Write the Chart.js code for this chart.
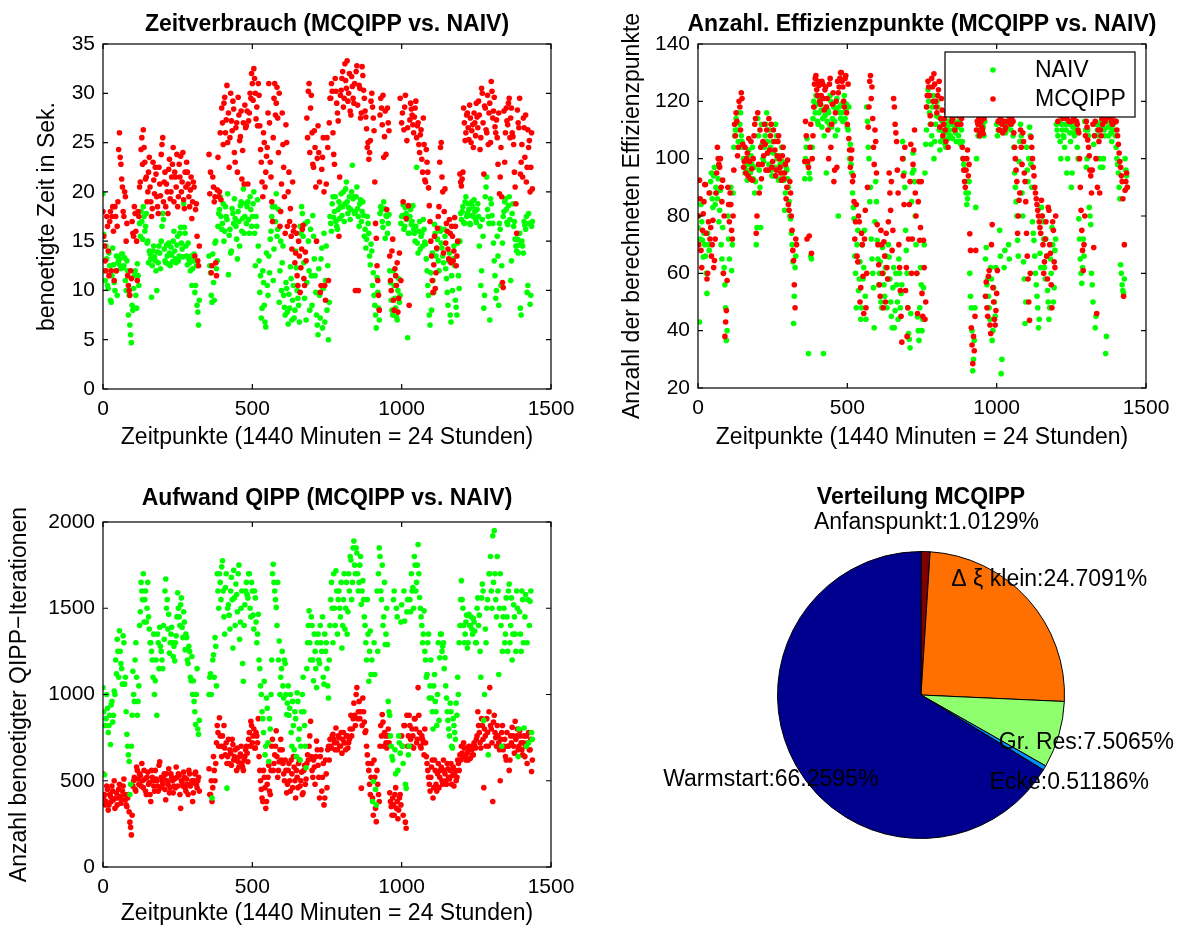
<!DOCTYPE html>
<html>
<head>
<meta charset="utf-8">
<script src="https://cdn.jsdelivr.net/npm/chart.js@4.4.1/dist/chart.umd.min.js"></script>
<style>
html,body{margin:0;padding:0;background:#fff;}
#wrap{position:relative;width:1187px;height:930px;overflow:hidden;background:#fff;}
canvas{position:absolute;}
</style>
</head>
<body>
<div id="wrap">
<canvas id="c1" width="593" height="465" style="left:0;top:0"></canvas>
<canvas id="c2" width="594" height="465" style="left:593px;top:0"></canvas>
<canvas id="c3" width="593" height="465" style="left:0;top:465px"></canvas>
<canvas id="c4" width="594" height="465" style="left:593px;top:465px"></canvas>
</div>
<script>
// ---------------- DATA ----------------
// readings every 5 minutes (A) and at the half-step in between (B)
const STEP = 5;
const minutesA = Array.from({length: 288}, (_, i) => i * STEP);
const minutesB = Array.from({length: 288}, (_, i) => i * STEP + STEP / 2);
const xTicks = [0, 500, 1000, 1500];
const seriesNames = ['NAIV', 'MCQIPP'];

// Zeitverbrauch (seconds)
const zeitMcqippA = [
18,14.5,12,16.5,11.5,18,17.5,16,18.5,12,19,26,22.8,20.5,17.5,19.5,16.8,10.5,9.5,11.2,15.8,18.5,16,11,
17.5,21,25.5,26.3,23,21.5,20,23.5,19,18.3,21.2,22.5,19.5,17.8,20.8,23.8,25.5,21,18.5,20,22.3,19.3,21.5,24.5,
22,20.5,18.5,22.8,23.6,21,19.2,22,23,20.8,18.5,21.5,19,20.5,18.2,15.5,12.5,null,null,null,null,null,null,23.8,
22,12.5,20.5,19.5,11.5,23.5,20,19.2,27,29,26,30.8,28,25.5,27.2,29.2,24,26.5,22,27.8,25.6,21.3,27,28.8,
26.7,20.8,28,29.5,31,32.5,30,28.6,31,26.7,23,19.5,25,22,24.5,31,23,19,25.5,31,29,27.5,30,18,
28,22.5,15.8,25,20,17,15.5,21,16.5,13.8,11.5,15,9.8,14.2,16.6,10.5,13,25.5,31,28.5,26,22.5,24.5,15,
26.7,21,10.5,23.5,20,9,25.5,11,29.5,31,26,22.8,30.2,28,15.5,29.8,31.5,28.6,33,30.5,29.2,32,27.8,30.7,
29,10,32.8,10,30.5,28,31.8,29.5,27.6,24.5,23.3,25.2,30,27.5,21,15.3,11,8,29.5,26.8,23.5,28.2,18.2,27,
13.5,10,15.2,8,11.5,12.8,9.2,29.5,27,19,28.6,17.3,26.5,8.5,29,27.8,26,28.5,25.5,27,24,26.3,22,24.8,
21,23,20.4,17,13.5,9.8,15.5,11.8,16.3,18.5,24.5,21.5,13.8,20.3,16.8,14.2,17.2,12.8,15.5,14,16.5,13.5,null,21.8,
20.6,22,27,26,28,25.3,27.5,26.2,24.5,27,29,26.5,27.8,25.5,30,21.8,28.5,26,24.8,29,31.2,27.5,29.6,26,
25.5,28,21.5,19.5,10.3,23,28.5,26.8,29.5,27.5,26,24.8,20.5,15.8,27,29.5,23,21.5,26.5,27.8,22.5,24.5,20,26
];
const zeitMcqippB = [
15.5,13,17.5,14,17,12,18.5,11,17.5,16.5,24.3,23.5,21.3,18,20,15,11.5,10,12,17,15.5,17.8,15,18,
20.5,24.3,22.8,24.5,21.3,19,22,20.5,17.5,23,19.8,21.8,18.5,22.5,19.6,24.8,19,22,20.8,17.8,23.3,20,22.8,19,
21.5,23.8,19.5,21.5,20,24,18.3,20.5,22,19.5,20.2,17.3,21,13.5,18.8,13,14.5,null,null,null,null,null,null,19.8,
11.8,21.5,19,12.8,20.2,19.5,26,28.5,24.8,29.6,27.3,25,22.5,30,26.2,28.4,23,27,29.6,25.2,28.2,24.2,20.8,26.5,
28.2,27.2,30,32,29.3,31.5,27.4,26.7,29.8,24.3,21,26,20.5,23.6,28,27,21.5,17,29.5,27.8,30.6,24,16.5,20.8,
24.8,19.5,26.8,16.5,22,18.3,14.2,16,12.8,15.8,10.5,13.5,12.3,16.2,11.2,13.9,27.5,30.2,24,29.8,22.8,26.2,20.5,23.4,
24,9.8,22.3,25.5,10.5,20.8,24.5,27,29.5,30.2,23.8,31.5,29,27.2,21.5,30.3,32.2,29.5,31.3,33.3,30,28.2,31.7,29.5,
31,32.2,28.8,30.8,27.5,32.7,30.3,28.2,26.4,25,24,29.2,28.6,26.2,16.8,12.5,9.5,27.8,28.5,29.8,25.6,23.8,28.5,26.2,
11,14,9,12.2,10.5,7.8,13.8,11,28,26.3,29.8,25.2,18.6,27.3,28.4,26.8,27.6,29.2,26.7,24.8,25.8,23.3,27.5,21.2,
24.3,22,18.6,15,11,12.6,10.2,14.3,17.5,23,25,20,18,14.8,16,13.2,15.8,16.5,13,17.4,12.5,15,null,21,
21.3,28.5,25.2,27.8,26.5,28.8,25,26.8,28,25.7,27.6,29.2,24.3,30.5,27,28.7,26.3,29.8,28,25,30.2,28.2,26.6,27.3,
22.8,19.8,24.5,10.8,28.2,26,27.2,29,25.5,28.5,25.6,22,18.8,28.3,26.5,21.8,24.8,27.5,23.5,21,26.3,25.2,22.5,20.3
];
const zeitNaivA = [
19.8,12,14.5,10.5,13.8,9,11.5,12.6,10,13.5,12.8,13.2,12.2,13.7,12.5,11,13,7.5,6.5,4.7,8,11.5,9.5,12.7,
10.5,15.5,17,18.5,16,17.8,15,14,13.2,12.5,14.5,13,10,12.8,13.8,15,17.8,14.2,12.8,13.5,14.8,12.5,13.6,15,
14,12.8,15.5,13.5,16.4,14.2,18.8,15.8,13.5,14.8,12.8,13.5,12.2,13.7,10.5,8.5,6.5,null,null,null,null,null,null,13.5,
11.8,8.8,10.8,14.8,12.2,16.5,18.2,17.5,16.8,15,18.5,17.2,11.6,16.2,14,17.8,19.3,16.5,13.2,17,18.6,16,20.3,17.5,
16.8,19,15.8,18.2,17.5,20,12.5,16.5,14.5,9.8,7.2,12,8.5,6.3,10.5,13.5,15.2,17.5,11,18.5,19.8,16.2,8.8,15,
12.8,9.5,7.5,10.2,6.6,8.2,11.2,9,7.2,14,10,8.5,16.5,18.5,15.5,9.2,7,17,12,16.2,8.5,15.5,11.5,7.5,
5.5,9.5,13.2,6.2,15.8,11,8,5,17.5,16,19.5,18,17,16.2,19,18.5,17.6,20,18.8,21,17.8,19.5,18.2,22.7,
19.5,18,20.5,17.5,18.8,17,19,15.5,14.3,17.5,15.8,12.6,14,11.8,8.5,6.2,9.8,7,18.5,17,19,15.3,17.5,16.8,
12,9,7.5,10.5,8.2,7,11.2,9.5,17.5,18.7,16.5,17.8,5.2,15.8,18.2,17,16.2,15,22.5,13.8,17,15.5,14.5,16.2,
14.7,12,9.5,6.5,8,11,16.7,13.5,15.2,12,16,14.3,12.8,15.5,11.2,8.5,13.8,6.8,10,14.5,9,7.5,11.5,15,
17.2,18.5,16.8,19.5,17.8,18.2,16.7,19,17.5,18,16.9,18.8,14.5,10.5,17.2,8.2,19.5,21.5,17.5,7,18.8,16.8,13,9.2,
15.5,8.5,16.2,12.5,17.5,19,18.2,16.7,19.5,11,17.8,16.5,15.2,14,13.8,15.8,7.5,14.5,17,16.2,9.8,17.8,8.6,16.5
];
const zeitNaivB = [
15.7,11,13.2,10.2,12.5,8.8,14.3,10.8,12,9.5,13,12.5,13.7,12.3,13.3,10,12,9.5,5.5,8.5,10.2,12,8.2,11.5,
16.8,18,15.2,17.5,16.5,14.8,12.8,13.7,9.3,14,13.4,12,13.9,14.5,12.2,16.5,17.2,13,14.6,12.7,13.8,14.4,12.9,16,
13.2,14.6,13,15.8,14.8,13.4,16.4,14.5,12.6,13.2,12,10.5,13,9.8,12.5,7.8,9,null,null,null,null,null,null,12.5,
9.5,13.7,9,15,13,17.8,19.5,16.2,18.8,16,17.5,19.8,15.6,13.8,18.3,16.8,17.3,15.2,18,14.5,19,17.3,15.8,18.8,
18.5,17.2,19.5,16.5,18.8,15.8,17.5,19.2,13,11.5,8.2,10.8,6.8,13.8,9.5,11.8,16,18.5,14.2,17,15.5,18.2,12,10,
14.5,8.3,10.8,7.8,9.6,12.4,7,10.5,8,12.3,9.2,6.8,15.8,17.8,12.8,16.8,10.8,15,8,11.5,17.6,13.2,9.8,6.5,
12.2,7.2,14.3,10.2,6.8,14.5,12.5,8.8,16.8,18.8,17.4,19.5,16.5,18.2,17.3,19.8,18.5,17,20.3,19,18.4,17.2,20,19.3,
17.8,19.5,18.3,16.5,19.2,18,17.6,16.2,15.2,16.8,13.5,14.7,10.5,9.5,7.5,11.3,8.2,17.8,18.2,16.4,18.3,17.6,15.8,17.7,
10.8,8,12,9.2,7.3,10,8.8,16.8,17.6,16.2,18.4,17.2,15.8,17.5,16.7,18.6,15.8,16.5,14.8,16,14.2,15.8,17.2,14.9,
13.2,10.5,7.5,11.8,13.8,9.8,15.8,14.2,13,16.3,14.8,13.5,16.2,12.2,9.8,13,7.5,11.5,13.2,12.5,8.3,14.8,10.2,17.8,
18,16.9,19,17.5,18.8,16.8,17.6,18.5,19.2,17.2,18.2,17.5,16.5,12,15.5,9.5,20.5,18.2,16.8,19.3,17.6,14.8,11.5,10,
13.5,16.8,10.5,14.8,18,19.3,16.9,18.6,17.2,13,18.8,17,14.5,15.2,14.6,8.2,15,13.8,16.6,17.5,10.5,16.8,9.5,17
];

// Anzahl Effizienzpunkte
const effMcqippA = [
80,92.5,68,75,85,91,58,78,72,66,78.5,64.5,88,104,98,100,85,60,38,47,90,78,84,72,
96,108,113,104,118,123,105,99,95,102,107,93,96.5,100,112,74,116,88,104,98,101,105,110,96,
103,112,99,106,94,101,108,97,92.5,104,95,86,99.5,82,88,75,64.5,48,70,null,null,null,null,null,
113,72,97,104,67,108,126,129,122,125.5,119,127,121,124,118,110,126,104,119,92,116,97,123,128,
130,125,118,129,112,107,97,103,94,72,84,64,78,55,70,46,82,60,111,127,121,114,98,106,
77,63,52,70,48,66,74,58,95,82,68,121,112,106,88,62,45,100,84,54,38,72,92,60,
98,110,80,46,92,76,53,71.5,44,118,127,122,112,125,129.6,120,116,124,111,121,108,114,106,119,
120,116,113,118,110,121,115,117,112,104,96,90,100,94,73.8,41,28.5,33,68,113,114.5,109,111,108.7,
118,57,45,61,39,77,50,42,53,113,110,116,109,113,111,117,115,120,114,113,104,96,74,85.5,
110,98,106,92,74,58,43.6,107.5,100,94,88,84,80,76,85.5,70,64,78,58,82,67,48,75,62,
118,113,121,115,124,117,119,114,122,116,113,120,115,118,112,109,90,75,61,80,113,106.5,101,94,
96,69,113,46,110,88,108,112,118,114,120,116,117,113,115,119,113,108,102,97,92,52,89,95
];
const effMcqippB = [
70,86,62,80.8,91,74,60,88,76,70,62,72,95,100,97,90,92.5,80,43,57.5,84,88,75,80,
112,116,101,120,110,121,97,104,100,94,99,106,92.5,108,114,80,98,110,93,106,112,96,102,114,
108,97,110,103,96,106,100,95,101,93,98,90,84,92,80,68,56,72,null,null,null,null,null,99,
108,99,73,112,100,118,128,124,127,120,122,126,117,125,121,100,128,112,123,96,120,127,125,130,
127,120,128,116,126,103,100,92,85,78,66,80,50,74,59,72,48,90,118,129,125,104,110,95,
70,56,75,60,71,50,62,78,88,92,75,118,109,96,70,54,36,94,104,62,48,84,105,72,
103,88,60,85,71.5,92,45,62,50,122,125,115,128,120,126,118,122,127,114,117,112,110,116,104,
118,121,114,120,117,112,122,116,114,100,92,96,103,98,68,35,38,45,110,112,108,113,110,114,
52,48,59,42,70,55,44,47,61,110,114,112,117,110,116,113,118,112,116,109,100,92,80,88,
104,109,95,85,66,50,60,104,97,90,86,82,78,74,80,60,72,66,83,70,56,78,64,80,
116,120,117,122,114,118,121,116,113,119,117,114,121,113,110,100,82,68,70,108,111,104,96,88,
112,108,100,90,106,110,114,117,113,121,115,118,114,112,117,113,110,105,99,94,86,70,92,90
];
const effNaivA = [
76,43,84,71.5,74,66,53,70,88,95,83,97,90,86,78,89,65,60,56,36.6,80,65,90,70,
104,110,116,106,112,108,104,97,100,92.5,103,95,98,93,88,70,114,96,76,105,99,108,116,102,
110,96,106,94,112,100,92.5,98,104,95,82,97,93,85,79,70,42.5,62,null,null,null,null,null,null,
100,107,32,93,65,114,118,122,113,116,119,111,32,115,95,117,112,120,114,118,108,121,80,116,
119,113,122,117,111,118,105,95,83,66,48,75,58,44,70,62,52,118,104,85,72,60,41,92,
71.5,56,64,48,60,52,66,58,65.7,50,41,62,47,56,44,60,53,106,95,75,60,39,34,85,
102,92,70,44.8,36.6,62,40,55,95,110,124,116,105,118,100,112,120,114.5,103,110,107,112,104,109,
113,108,114,110,111,106,112,113,105,106,98,92,84,88,60,48,26,36.6,83,110,112,108,114,111,
113,69,58,48,62,36.6,55,45,112,110,75,25,113,62,109,111,70,114,112,108,95,85,71.5,99,
112,88,64,42.5,104,92,111,98,78,71.5,60,52,41,67,83,78,62,72,54,44,65,76,50,68,
112,108,113,100,110,107.5,112,95,113,109,90,111,108,112,104,79,65,56.5,72,113,97,110,83,77,
56,105,41,112,108,100,113,97,110,32,113,108,111,106,112,113,104,98,90,63,56,53,100,94
];
const effNaivB = [
80,72,78,65.7,70,60,74,68,92,86,94,84,88,93,82,70,76,62,48,40,72,84,61,88,
108,114,110,104,116,106,100,95,96,98,93,101,104,97,92,76,108,90,112,100,104,112,106,98,
104,94,102,97,108,96,101,93,99,92.5,88,96,90,80,74,64,52,66,null,null,null,null,null,93,
104,98,95,66,104,120,116,119,112,121,117,114,108,118,113,116,122,111,119,113,117,110,118,114,
116,120,114,119,110,100,98,88,79,60,70,54,64,48,58,75,44,113,100,90,65,55,78,85,
65,60,50,69,56,62,48,70,58,45,55,41,60,50,65,48,56,100,90,68,48,37,46,95,
96,80,60,40,48,56,44,70,105,118,120,112,108,122,106,115,118,110,106,113,109,105,111,107,
110,112,107,113,109,111,108,106,110,100,96,88,86,92,52,40,30,48,100,108,114,110,112,108,
65,56,52,44,58,40,50,62,108,113,66,30,110,68,112,113,65,110,113,104,90,80,66,106,
108,80,58,50,96,100,108,90,74,66,56,48,44,62,80,72,58,66,50,48,60,70,55,72,
110,113,106,112,108,104,110,100,112,106,95,109,113,110,100,72,60,62,66,110,100,108,80,60,
50,108,45,110,112,97,111,100,108,38,111,113,109,113,110,108,100,95,86,60,54,58,96,90
];

// Aufwand QIPP (iterations)
const iterMcqippA = [
540,420,380,450,360,410,470,390,340,430,400,480,370,440,510,390,350,420,260,186,470,520,440,560,
480,530,600,460,510,420,550,490,380,520,470,560,500,440,610,520,480,540,390,500,570,460,520,430,
510,580,470,530,340,490,550,460,510,420,540,480,380,500,550,460,520,null,null,null,null,null,null,570,
420,380,640,500,720,780,865,700,760,820,650,600,740,680,590,710,640,620,690,580,655,600,560,640,
700,610,780,845,720,800,690,760,860,560,450,380,520,340,480,590,420,700,560,650,790,520,610,740,
680,540,620,430,560,500,620,460,580,400,520,600,470,550,430,590,510,650,700,845,560,620,480,730,
590,400,680,520,360,620,460,700,740,690,770,720,806,680,750,700,660,780,720,760,690,740,880,800,
950,820,1040,900,860,457,980,840,790,650,560,420,600,300,520,263,480,380,820,884,700,760,690,800,
430,350,400,300,460,380,330,420,760,300,820,225,700,880,740,800,690,860,720,1040,780,690,740,650,
720,600,520,440,580,400,620,480,540,460,560,500,620,540,480,570,510,600,530,470,560,520,600,650,
700,640,690,620,660,700,630,680,650,700,740,900,780,690,820,460,760,860,700,1040,800,380,880,750,
820,720,500,780,680,740,620,700,560,760,810,700,845,760,680,790,720,650,760,700,600,780,680,554
];
const iterMcqippB = [
400,360,470,330,420,380,440,500,400,360,450,410,390,470,420,360,400,320,230,300,500,450,580,510,
540,470,500,560,440,520,480,420,560,500,440,510,470,590,460,500,520,450,540,480,430,540,500,470,
460,520,540,420,500,470,520,440,480,560,470,500,430,540,480,500,440,null,null,null,null,null,null,420,
500,460,560,600,820,700,760,640,700,690,720,640,600,660,740,620,680,560,610,640,700,580,620,680,
660,740,700,820,760,690,780,720,640,500,400,560,460,380,520,440,560,740,600,700,640,560,680,620,
600,500,560,480,600,440,540,640,500,560,460,620,500,420,560,480,600,620,760,640,520,580,640,680,
520,640,440,600,400,540,680,620,700,760,740,680,720,760,700,780,740,720,680,760,720,800,760,860,
880,1000,860,960,900,820,900,780,700,600,480,520,400,620,340,560,420,700,760,840,780,720,760,720,
380,300,360,420,340,280,400,360,700,820,260,880,760,820,700,760,860,800,740,880,700,760,720,800,
640,560,480,520,620,460,560,440,600,520,580,480,560,500,600,520,560,480,580,540,500,620,560,620,
660,720,640,690,620,680,700,650,720,690,760,820,720,860,740,800,700,780,900,820,720,840,780,700,
760,680,740,820,700,640,780,700,620,720,760,660,740,800,700,760,680,720,640,760,720,680,740,620
];
const iterNaivA = [
1040,535,860,920,820,710,960,880,1000,1120,1250,1370,1180,1060,1300,1100,770,650,420,700,1135,960,1300,880,
1050,1480,1600,1700,1550,1420,1650,1380,1300,1200,1350,1080,880,1300,1390,1250,1150,1320,1670,1550,1465,1300,1390,1220,
1195,1340,1590,1450,1520,1390,1480,1260,1330,1180,1250,1080,1000,960,826,1150,770,null,null,null,null,null,null,1000,
1120,400,1230,1330,1050,1600,1700,1550,1775,1450,1620,457,1520,1380,1680,1270,1560,1640,1480,1750,1420,1600,1077,1520,
1650,1560,1700,1450,1600,1380,1560,1300,1465,1150,1000,860,1077,700,920,612,800,1200,1755,1600,1505,1650,1310,1100,
1250,980,1180,884,1050,920,780,960,680,860,1010,740,620,900,1100,820,575,1300,1485,1200,1400,1080,1250,1040,
1350,1180,1300,1450,1060,1250,1150,980,1400,1650,1300,1500,1717,1350,1600,1450,1270,1550,1380,1650,1480,1600,1780,1650,
1890,1700,1820,1600,1750,1523,1660,1450,1300,1550,1077,1368,1200,496,1116,360,1250,1850,1600,1750,1450,1290,1500,960,
880,700,620,1600,540,1450,760,660,1520,600,1426,457,1550,700,1480,1600,1500,1750,1650,1870,1562,1450,1300,1485,
1200,1116,1350,1050,980,800,1116,900,1000,850,1350,1250,1300,1213,980,850,760,900,690,820,740,880,1000,1400,
1660,1500,1300,1420,1270,1465,1400,1380,1440,1368,1300,1560,1460,1100,1640,850,1380,1500,650,1700,1600,1920,1950,1550,
1800,1116,1700,700,1450,1300,1560,1250,1640,1400,1200,1520,1350,1600,640,1480,1250,1550,806,1580,1300,720,1540,780
];
const iterNaivB = [
900,820,1000,780,880,940,840,1020,1200,1320,1100,1250,1150,1340,1060,900,700,612,480,880,1000,1200,1100,960,
1400,1650,1550,1420,1600,1500,1450,1300,1250,1100,1000,1200,1350,1150,1280,1200,1400,1600,1500,1380,1240,1350,1300,1280,
1300,1450,1500,1400,1560,1330,1420,1350,1200,1280,1100,1220,1080,900,1000,800,850,null,null,null,null,null,null,1100,
1000,1200,1100,1280,1700,1500,1650,1740,1600,1350,1700,1500,1460,1600,1550,1720,1400,1580,1700,1320,1500,1180,1400,1600,
1580,1700,1500,1650,1460,1600,1420,1350,1200,1050,900,780,650,980,720,860,1000,1700,1650,1550,1400,1200,1000,1150,
1050,1200,1000,950,880,1000,700,820,900,640,960,800,700,1000,900,700,1150,1400,1300,1450,1200,1350,1150,1300,
1200,1400,1250,1100,1350,1300,1050,1200,1550,1500,1700,1400,1600,1550,1500,1650,1400,1700,1500,1350,1700,1800,1550,1850,
1750,1850,1700,1650,1800,1600,1550,1400,1200,1350,1250,1116,380,1300,450,1600,1700,1800,1550,1400,1650,1350,1290,900,
760,640,1550,680,1500,560,720,1420,700,1600,480,1480,650,1550,1700,1620,1800,1600,1750,1700,1500,1400,1350,1250,
1100,1300,980,1200,900,1050,960,820,1300,1213,1350,1280,1150,1050,900,800,950,700,860,780,950,1100,1300,1550,
1550,1400,1350,1460,1300,1400,1450,1350,1420,1300,1500,1400,1250,1560,1600,1000,1300,1550,1700,1800,1500,1650,1700,1450,
1600,1500,1400,1250,1500,1350,1450,1600,1300,1560,1350,1450,1250,1500,800,1350,1600,1300,1450,700,1550,1400,1600,740
];

// Verteilung MCQIPP (percent), clockwise from 12 o'clock
const pieLabels = ['Anfanspunkt', 'Δ ξ klein', 'Gr. Res', 'Ecke', 'Warmstart'];
const pieValues = [1.0129, 24.7091, 7.5065, 0.51186, 66.2595];

// ---------------- STYLE ----------------
const FONT = "'Liberation Sans', Arial, Helvetica, sans-serif";
Chart.defaults.font.family = FONT;
Chart.defaults.color = '#000';
const RED = '#ff0000', GREEN = '#00ff00';
const pieColors = ['#800000', '#ff7000', '#8fff70', '#0090ff', '#00008f'];

function pts(a, b) {
  return minutesA.map((m, i) => ({x: m, y: a[i]}))
    .concat(minutesB.map((m, i) => ({x: m, y: b[i]})));
}

// axes box with inward ticks on all four sides (MATLAB style)
const boxTicks = {
  id: 'boxTicks',
  afterDatasetsDraw(chart) {
    const {ctx, chartArea: a, scales} = chart;
    const L = 5;
    ctx.save();
    ctx.strokeStyle = '#000';
    ctx.lineWidth = 1.2;
    ctx.strokeRect(a.left, a.top, a.right - a.left, a.bottom - a.top);
    ctx.beginPath();
    scales.x.ticks.forEach(t => {
      const p = scales.x.getPixelForValue(t.value);
      ctx.moveTo(p, a.bottom); ctx.lineTo(p, a.bottom - L);
      ctx.moveTo(p, a.top); ctx.lineTo(p, a.top + L);
    });
    scales.y.ticks.forEach(t => {
      const p = scales.y.getPixelForValue(t.value);
      ctx.moveTo(a.left, p); ctx.lineTo(a.left + L, p);
      ctx.moveTo(a.right, p); ctx.lineTo(a.right - L, p);
    });
    ctx.stroke();
    ctx.restore();
  }
};

// chart title centred over the axes
const ttl = {
  id: 'ttl',
  afterDraw(chart, args, o) {
    if (!o || !o.text) return;
    const {ctx, chartArea: a} = chart;
    ctx.save();
    ctx.font = 'bold 23px ' + FONT;
    ctx.fillStyle = '#000';
    ctx.textAlign = 'center';
    ctx.textBaseline = 'alphabetic';
    ctx.fillText(o.text, (a.left + a.right) / 2, o.y);
    ctx.restore();
  }
};

// legend box inside the axes (top right)
const mlegend = {
  id: 'mlegend',
  afterDraw(chart, args, o) {
    if (!o || !o.show) return;
    const {ctx, chartArea: a} = chart;
    const w = 190, h = 65;
    const x0 = a.right - 11 - w, y0 = a.top + 8;
    ctx.save();
    ctx.fillStyle = '#fff';
    ctx.fillRect(x0, y0, w, h);
    ctx.strokeStyle = '#000';
    ctx.lineWidth = 1.2;
    ctx.strokeRect(x0, y0, w, h);
    ctx.font = '23px ' + FONT;
    ctx.textBaseline = 'middle';
    ctx.textAlign = 'left';
    o.items.forEach((it, i) => {
      const yy = y0 + 18 + i * 29;
      ctx.fillStyle = it.color;
      ctx.beginPath(); ctx.arc(x0 + 48, yy, 2.8, 0, Math.PI * 2); ctx.fill();
      ctx.fillStyle = '#000';
      ctx.fillText(it.label, x0 + 90, yy + 1);
    });
    ctx.restore();
  }
};

// pie labels at 1.2 * radius along each slice bisector
const pieLbl = {
  id: 'pieLbl',
  afterDatasetsDraw(chart) {
    const {ctx} = chart;
    const meta = chart.getDatasetMeta(0);
    ctx.save();
    ctx.font = '23px ' + FONT;
    ctx.fillStyle = '#000';
    ctx.textAlign = 'center';
    ctx.textBaseline = 'middle';
    meta.data.forEach((arc, i) => {
      const p = arc.getProps(['x', 'y', 'startAngle', 'endAngle', 'outerRadius'], true);
      const mid = (p.startAngle + p.endAngle) / 2;
      const r = p.outerRadius * 1.2;
      ctx.fillText(pieLabels[i] + ':' + pieValues[i] + '%', p.x + r * Math.cos(mid), p.y + r * Math.sin(mid));
    });
    ctx.restore();
  }
};

function scatterConfig(o) {
  return {
    type: 'scatter',
    data: {
      datasets: o.datasets.map(d => ({
        label: d.label, data: pts(d.a, d.b),
        backgroundColor: d.color, borderColor: d.color, borderWidth: 0,
        pointRadius: 2.8, pointHoverRadius: 2.8
      }))
    },
    options: {
      responsive: false, animation: false, events: [],
      layout: {padding: {left: 0, top: o.top, right: o.right, bottom: 0}},
      plugins: {
        legend: {display: false}, tooltip: {enabled: false},
        ttl: {text: o.title, y: o.titleY},
        mlegend: o.legend || {show: false}
      },
      scales: {
        x: {
          type: 'linear', min: 0, max: 1500,
          afterBuildTicks: s => { s.ticks = xTicks.map(v => ({value: v})); },
          grid: {display: false, drawTicks: false}, border: {display: false},
          ticks: {font: {size: 21}, color: '#000', padding: 8, maxRotation: 0, callback: v => String(v)},
          title: {display: true, text: 'Zeitpunkte (1440 Minuten = 24 Stunden)', font: {size: 23}, color: '#000',
                  padding: {top: 0, bottom: o.xTitlePad}},
          afterFit: s => { s.height = o.xH; }
        },
        y: {
          type: 'linear', min: o.yTicks[0], max: o.yTicks[o.yTicks.length - 1],
          afterBuildTicks: s => { s.ticks = o.yTicks.map(v => ({value: v})); },
          grid: {display: false, drawTicks: false}, border: {display: false},
          ticks: {font: {size: 21}, color: '#000', padding: 8, callback: v => String(v)},
          title: {display: true, text: o.yTitle, font: {size: 23}, color: '#000',
                  padding: {top: o.yTitlePad, bottom: 0}},
          afterFit: s => { s.width = o.yW; }
        }
      }
    },
    plugins: [boxTicks, ttl, mlegend]
  };
}

new Chart(document.getElementById('c1'), scatterConfig({
  title: 'Zeitverbrauch (MCQIPP vs. NAIV)', titleY: 31,
  top: 44, right: 42, xH: 76, yW: 103, xTitlePad: 14, yTitlePad: 34,
  yTicks: [0, 5, 10, 15, 20, 25, 30, 35],
  yTitle: 'benoetigte Zeit in Sek.',
  datasets: [
    {label: seriesNames[1], a: zeitMcqippA, b: zeitMcqippB, color: RED},
    {label: seriesNames[0], a: zeitNaivA, b: zeitNaivB, color: GREEN}
  ]
}));

new Chart(document.getElementById('c2'), scatterConfig({
  title: 'Anzahl. Effizienzpunkte (MCQIPP vs. NAIV)', titleY: 31,
  top: 44, right: 41, xH: 77, yW: 105, xTitlePad: 14, yTitlePad: 26,
  yTicks: [20, 40, 60, 80, 100, 120, 140],
  yTitle: 'Anzahl der berechneten Effizienzpunkte',
  datasets: [
    {label: seriesNames[1], a: effMcqippA, b: effMcqippB, color: RED},
    {label: seriesNames[0], a: effNaivA, b: effNaivB, color: GREEN}
  ],
  legend: {show: true, items: [{label: seriesNames[0], color: GREEN}, {label: seriesNames[1], color: RED}]}
}));

new Chart(document.getElementById('c3'), scatterConfig({
  title: 'Aufwand QIPP (MCQIPP vs. NAIV)', titleY: 40,
  top: 57, right: 42, xH: 63, yW: 103, xTitlePad: 3, yTitlePad: 6,
  yTicks: [0, 500, 1000, 1500, 2000],
  yTitle: 'Anzahl benoetigter QIPP\u2212Iterationen',
  datasets: [
    {label: seriesNames[0], a: iterNaivA, b: iterNaivB, color: GREEN},
    {label: seriesNames[1], a: iterMcqippA, b: iterMcqippB, color: RED}
  ]
}));

new Chart(document.getElementById('c4'), {
  type: 'pie',
  data: {
    labels: pieLabels,
    datasets: [{data: pieValues, backgroundColor: pieColors, borderColor: '#000', borderWidth: 1}]
  },
  options: {
    responsive: false, animation: false, events: [],
    layout: {padding: {left: 184, right: 122, top: 86, bottom: 91}},
    plugins: {legend: {display: false}, tooltip: {enabled: false}, ttl: {text: 'Verteilung MCQIPP', y: 39}}
  },
  plugins: [ttl, pieLbl]
});
</script>
</body>
</html>
